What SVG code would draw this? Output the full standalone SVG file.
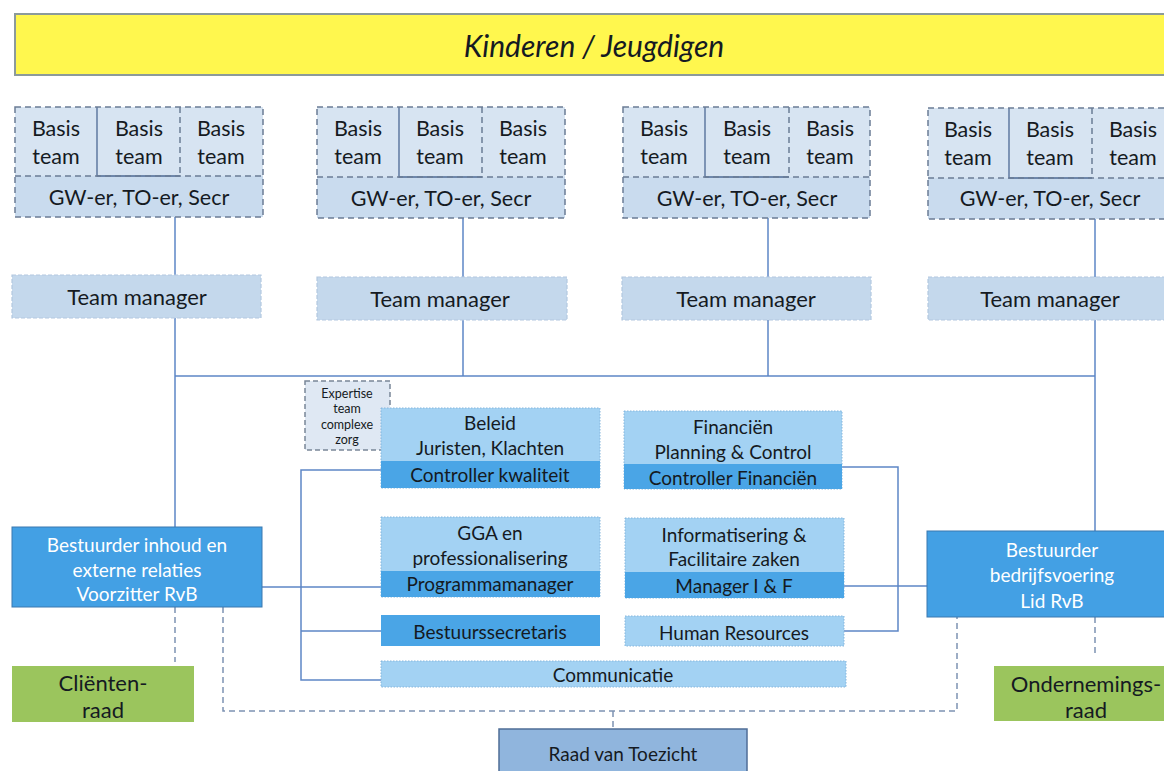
<svg xmlns="http://www.w3.org/2000/svg" width="1164" height="771" viewBox="0 0 1164 771">
<defs>
<style>
text{font-family:"Lato","Open Sans","Liberation Sans",sans-serif;text-anchor:middle;dominant-baseline:central;fill:#151a22}
.t20{font-size:21.5px}
.tmx{font-size:22px}
.t17{font-size:19px}
.t11{font-size:12.5px}
.w{fill:#ffffff}
.basis{fill:#d7e4f2;stroke:none}
.gw{fill:#c9dbee;stroke:none}
.dash{fill:none;stroke:#6b7c95;stroke-width:1.5;stroke-dasharray:6 4}
.solid{stroke:#4d6994;stroke-width:1.3;fill:none}
.tm{fill:#c4d8ec;stroke:#b3c8df;stroke-width:1.2;stroke-dasharray:4 2}
.lt{fill:#a3d2f3;stroke:#86b6dc;stroke-width:1;stroke-dasharray:1.5 1.5}
.dk{fill:#4aa5e6}
.bst{fill:#43a0e4;stroke:#3a78b0;stroke-width:1}
.grn{fill:#9bc55d}
.line{stroke:#5d86c6;stroke-width:1.5;fill:none}
.dline{stroke:#7d92b3;stroke-width:1.5;fill:none;stroke-dasharray:6 4}
</style>
</defs>
<rect width="1164" height="771" fill="#ffffff"/>

<g id="title">
<rect x="15" y="14" width="1160" height="61" fill="#fff74e" stroke="#8c9a9a" stroke-width="2"/>
<text x="594" y="45" style="font-size:30px;font-style:italic">Kinderen / Jeugdigen</text>
</g>

<g id="connectors">
<line class="line" x1="175" y1="217" x2="175" y2="275"/>
<line class="line" x1="463" y1="218" x2="463" y2="277"/>
<line class="line" x1="768" y1="218" x2="768" y2="277"/>
<line class="line" x1="1095" y1="219" x2="1095" y2="277"/>
<line class="line" x1="175" y1="318" x2="175" y2="527"/>
<line class="line" x1="463" y1="320" x2="463" y2="376"/>
<line class="line" x1="768" y1="320" x2="768" y2="376"/>
<line class="line" x1="1095" y1="320" x2="1095" y2="531"/>
<line class="line" x1="175" y1="376" x2="1095" y2="376"/>
<polyline class="line" points="381,470 301,470 301,680 381,680"/>
<line class="line" x1="262" y1="587" x2="381" y2="587"/>
<line class="line" x1="301" y1="631" x2="381" y2="631"/>
<polyline class="line" points="842,467 898,467 898,631 844,631"/>
<line class="line" x1="844" y1="586" x2="927" y2="586"/>
<line class="dline" x1="175" y1="607" x2="175" y2="662"/>
<polyline class="dline" points="223,607 223,711 957,711 957,617"/>
<line class="dline" x1="613" y1="711" x2="613" y2="729"/>
<line class="dline" x1="1095" y1="617" x2="1095" y2="655"/>
</g>

<g id="team1">
<rect class="basis" x="15" y="107" width="248" height="69"/>
<rect class="gw" x="15" y="176" width="248" height="41"/>
<polyline class="solid" points="97,107 97,176 180,176"/>
<line class="dash" x1="180" y1="107" x2="180" y2="176"/>
<line class="dash" x1="15" y1="176" x2="263" y2="176"/>
<rect class="dash" x="15" y="107" width="248" height="110"/>
<text class="t20" x="56" y="128">Basis</text><text class="t20" x="56" y="156">team</text>
<text class="t20" x="139" y="128">Basis</text><text class="t20" x="139" y="156">team</text>
<text class="t20" x="221" y="128">Basis</text><text class="t20" x="221" y="156">team</text>
<text class="t20" x="139" y="197">GW-er, TO-er, Secr</text>
</g>

<g id="team2">
<rect class="basis" x="317" y="107" width="248" height="70"/>
<rect class="gw" x="317" y="177" width="248" height="41"/>
<polyline class="solid" points="399,107 399,177 482,177"/>
<line class="dash" x1="482" y1="107" x2="482" y2="177"/>
<line class="dash" x1="317" y1="177" x2="565" y2="177"/>
<rect class="dash" x="317" y="107" width="248" height="111"/>
<text class="t20" x="358" y="128">Basis</text><text class="t20" x="358" y="156">team</text>
<text class="t20" x="440" y="128">Basis</text><text class="t20" x="440" y="156">team</text>
<text class="t20" x="523" y="128">Basis</text><text class="t20" x="523" y="156">team</text>
<text class="t20" x="441" y="198">GW-er, TO-er, Secr</text>
</g>

<g id="team3">
<rect class="basis" x="623" y="107" width="247" height="70"/>
<rect class="gw" x="623" y="177" width="247" height="41"/>
<polyline class="solid" points="705,107 705,177 789,177"/>
<line class="dash" x1="789" y1="107" x2="789" y2="177"/>
<line class="dash" x1="623" y1="177" x2="870" y2="177"/>
<rect class="dash" x="623" y="107" width="247" height="111"/>
<text class="t20" x="664" y="128">Basis</text><text class="t20" x="664" y="156">team</text>
<text class="t20" x="747" y="128">Basis</text><text class="t20" x="747" y="156">team</text>
<text class="t20" x="830" y="128">Basis</text><text class="t20" x="830" y="156">team</text>
<text class="t20" x="747" y="198">GW-er, TO-er, Secr</text>
</g>

<g id="team4">
<rect class="basis" x="928" y="108" width="248" height="70"/>
<rect class="gw" x="928" y="178" width="248" height="41"/>
<polyline class="solid" points="1009,108 1009,178 1092,178"/>
<line class="dash" x1="1092" y1="108" x2="1092" y2="178"/>
<line class="dash" x1="928" y1="178" x2="1176" y2="178"/>
<rect class="dash" x="928" y="108" width="248" height="111"/>
<text class="t20" x="968" y="129">Basis</text><text class="t20" x="968" y="157">team</text>
<text class="t20" x="1050" y="129">Basis</text><text class="t20" x="1050" y="157">team</text>
<text class="t20" x="1133" y="129">Basis</text><text class="t20" x="1133" y="157">team</text>
<text class="t20" x="1050" y="198">GW-er, TO-er, Secr</text>
</g>

<g id="tm1"><rect class="tm" x="12" y="275" width="249" height="43"/><text class="tmx" x="137" y="296">Team manager</text></g>
<g id="tm2"><rect class="tm" x="317" y="277" width="250" height="43"/><text class="tmx" x="440" y="298">Team manager</text></g>
<g id="tm3"><rect class="tm" x="622" y="277" width="249" height="43"/><text class="tmx" x="746" y="298">Team manager</text></g>
<g id="tm4"><rect class="tm" x="928" y="277" width="248" height="43"/><text class="tmx" x="1050" y="298">Team manager</text></g>

<g id="expertise">
<rect x="305" y="381" width="85" height="69" fill="#dfe8f3" stroke="#7a8698" stroke-width="1.5" stroke-dasharray="5 3"/>
<text class="t11" x="347" y="393">Expertise</text>
<text class="t11" x="347" y="408">team</text>
<text class="t11" x="347" y="424">complexe</text>
<text class="t11" x="347" y="439">zorg</text>
</g>

<g id="beleid">
<rect class="lt" x="381" y="408" width="219" height="80"/>
<rect class="dk" x="381" y="461" width="219" height="27"/>
<text class="t17" x="490" y="422">Beleid</text>
<text class="t17" x="490" y="447">Juristen, Klachten</text>
<text class="t17" x="490" y="474">Controller kwaliteit</text>
</g>

<g id="financien">
<rect class="lt" x="624" y="411" width="218" height="78"/>
<rect class="dk" x="624" y="464" width="218" height="25"/>
<text class="t17" x="733" y="426">Financiën</text>
<text class="t17" x="733" y="451">Planning &amp; Control</text>
<text class="t17" x="733" y="477">Controller Financiën</text>
</g>

<g id="gga">
<rect class="lt" x="381" y="517" width="219" height="80"/>
<rect class="dk" x="381" y="571" width="219" height="26"/>
<text class="t17" x="490" y="532">GGA en</text>
<text class="t17" x="490" y="557">professionalisering</text>
<text class="t17" x="490" y="583">Programmamanager</text>
</g>

<g id="informatisering">
<rect class="lt" x="625" y="518" width="219" height="80"/>
<rect class="dk" x="625" y="572" width="219" height="26"/>
<text class="t17" x="734" y="534">Informatisering &amp;</text>
<text class="t17" x="734" y="558">Facilitaire zaken</text>
<text class="t17" x="734" y="585">Manager I &amp; F</text>
</g>

<g id="bestuurssecretaris">
<rect class="dk" x="381" y="615" width="219" height="31"/>
<text class="t17" x="490" y="631">Bestuurssecretaris</text>
</g>

<g id="hr">
<rect class="lt" x="625" y="616" width="219" height="30"/>
<text class="t17" x="734" y="632">Human Resources</text>
</g>

<g id="communicatie">
<rect class="lt" x="381" y="661" width="465" height="26"/>
<text class="t17" x="613" y="674">Communicatie</text>
</g>

<g id="bestuurder-inhoud">
<rect class="bst" x="12" y="527" width="250" height="80"/>
<text class="t17 w" x="137" y="544">Bestuurder inhoud en</text>
<text class="t17 w" x="137" y="569">externe relaties</text>
<text class="t17 w" x="137" y="593">Voorzitter RvB</text>
</g>

<g id="bestuurder-bedrijf">
<rect class="bst" x="927" y="531" width="250" height="86"/>
<text class="t17 w" x="1052" y="549">Bestuurder</text>
<text class="t17 w" x="1052" y="574">bedrijfsvoering</text>
<text class="t17 w" x="1052" y="600">Lid RvB</text>
</g>

<g id="clientenraad">
<rect class="grn" x="12" y="666" width="182" height="56"/>
<text x="103" y="682" style="font-size:22px">Cliënten-</text>
<text x="103" y="709" style="font-size:22px">raad</text>
</g>

<g id="ondernemingsraad">
<rect class="grn" x="994" y="666" width="180" height="55"/>
<text x="1086" y="683" style="font-size:22px">Ondernemings-</text>
<text x="1086" y="709" style="font-size:22px">raad</text>
</g>

<g id="rvt">
<rect x="499" y="729" width="248" height="50" fill="#90b5dd" stroke="#4f6d97" stroke-width="1.5"/>
<text class="t17" x="623" y="753">Raad van Toezicht</text>
</g>
</svg>
